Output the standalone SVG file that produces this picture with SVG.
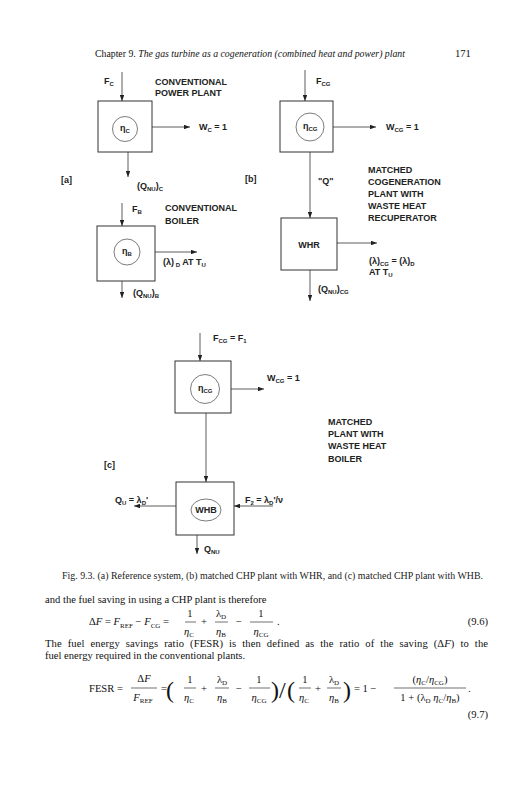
<svg xmlns="http://www.w3.org/2000/svg" width="532" height="800" viewBox="0 0 532 800">
<defs>
<marker id="ah" viewBox="0 0 8 6" refX="8" refY="3" markerWidth="6" markerHeight="4.5" orient="auto" markerUnits="userSpaceOnUse">
<path d="M0,0 L8,3 L0,6 Z" fill="#222"/>
</marker>
<style>
.l{font-family:"Liberation Sans",Arial,sans-serif;font-weight:bold;font-size:9px;fill:#222}
.s{font-size:6px}
.t{font-family:"Liberation Serif","Times New Roman",serif;font-size:10.6px;fill:#111}
.c{font-family:"Liberation Serif","Times New Roman",serif;font-size:9.5px;fill:#222}
.i{font-style:italic}
.box{fill:none;stroke:#333;stroke-width:1}
.ci{fill:none;stroke:#444;stroke-width:0.7}
.a{stroke:#333;stroke-width:0.8;fill:none;marker-end:url(#ah)}
.fb{stroke:#111;stroke-width:0.6}
.p{font-size:24px}
</style>
</defs>
<rect width="532" height="800" fill="#fff"/>

<g id="header">
<text class="t" x="95" y="57" font-size="9" textLength="310" lengthAdjust="spacingAndGlyphs">Chapter 9. <tspan class="i">The gas turbine as a cogeneration (combined heat and power) plant</tspan></text>
<text class="t" x="455" y="57" font-size="9.5">171</text>
</g>

<g id="connectors">
<line class="a" x1="122" y1="72" x2="122" y2="101"/>
<line class="a" x1="152" y1="127" x2="190" y2="127"/>
<line class="a" x1="128" y1="152" x2="128" y2="177"/>
<line class="a" x1="122" y1="203" x2="122" y2="226"/>
<line class="a" x1="155" y1="252" x2="197" y2="252"/>
<line class="a" x1="122" y1="281" x2="122" y2="298"/>
<line class="a" x1="305" y1="70" x2="305" y2="101"/>
<line class="a" x1="333" y1="127" x2="376" y2="127"/>
<line class="a" x1="310" y1="152" x2="310" y2="218"/>
<line class="a" x1="337" y1="243" x2="377" y2="243"/>
<line class="a" x1="310" y1="270" x2="310" y2="301"/>
<line class="a" x1="200" y1="333" x2="200" y2="361"/>
<line class="a" x1="231" y1="389" x2="264" y2="389"/>
<line class="a" x1="206" y1="413" x2="206" y2="482"/>
<line class="a" x1="176" y1="506" x2="134" y2="506"/>
<line class="a" x1="273" y1="506" x2="234" y2="506"/>
<line class="a" x1="197" y1="535" x2="197" y2="554"/>
</g>

<g id="a-power">
<rect class="box" x="98" y="101" width="54" height="51"/>
<circle class="ci" cx="125" cy="129" r="12.5"/>
<text class="l" x="120" y="131" font-weight="normal">η<tspan class="s" dy="2">C</tspan></text>
</g>
<g id="a-power-labels">
<text class="l" x="104" y="84">F<tspan class="s" dy="2">C</tspan></text>
<text class="l" x="155" y="85">CONVENTIONAL</text>
<text class="l" x="155" y="96">POWER PLANT</text>
<text class="l" x="199" y="130">W<tspan class="s" dy="2">C</tspan><tspan dy="-2"> = 1</tspan></text>
<text class="l" x="137" y="189">(Q<tspan class="s" dy="2">NU</tspan><tspan dy="-2">)</tspan><tspan class="s" dy="2">C</tspan></text>
<text class="l" x="61" y="183" font-size="11">[a]</text>
</g>

<g id="a-boiler">
<rect class="box" x="97" y="226" width="58" height="55"/>
<circle class="ci" cx="127" cy="252" r="13"/>
<text class="l" x="122" y="254" font-weight="normal">η<tspan class="s" dy="2">B</tspan></text>
</g>
<g id="a-boiler-labels">
<text class="l" x="132" y="212">F<tspan class="s" dy="2">B</tspan></text>
<text class="l" x="165" y="211">CONVENTIONAL</text>
<text class="l" x="165" y="224">BOILER</text>
<text class="l" x="163" y="265">(λ)<tspan class="s" dy="2"> D</tspan><tspan dy="-2"> AT T</tspan><tspan class="s" dy="2">U</tspan></text>
<text class="l" x="133" y="296">(Q<tspan class="s" dy="2">NU</tspan><tspan dy="-2">)</tspan><tspan class="s" dy="2">B</tspan></text>
</g>

<g id="b-plant">
<rect class="box" x="280" y="101" width="53" height="51"/>
<circle class="ci" cx="310" cy="127" r="14"/>
<text class="l" x="303" y="129" font-weight="normal">η<tspan class="s" dy="2">CG</tspan></text>
</g>
<g id="b-labels">
<text class="l" x="316" y="84">F<tspan class="s" dy="2">CG</tspan></text>
<text class="l" x="386" y="130">W<tspan class="s" dy="2">CG</tspan><tspan dy="-2"> = 1</tspan></text>
<text class="l" x="245" y="182" font-size="11">[b]</text>
<text class="l" x="318" y="184">"Q"</text>
<text class="l" x="368" y="173">MATCHED</text>
<text class="l" x="368" y="185">COGENERATION</text>
<text class="l" x="368" y="197">PLANT WITH</text>
<text class="l" x="368" y="209">WASTE HEAT</text>
<text class="l" x="368" y="221">RECUPERATOR</text>
</g>
<g id="b-whr">
<rect class="box" x="281" y="218" width="56" height="52"/>
<text class="l" x="309" y="248" text-anchor="middle">WHR</text>
</g>
<g id="b-whr-labels">
<text class="l" x="369" y="264">(λ)<tspan class="s" dy="2">CG</tspan><tspan dy="-2"> = (λ)</tspan><tspan class="s" dy="2">D</tspan></text>
<text class="l" x="369" y="275">AT T<tspan class="s" dy="2">U</tspan></text>
<text class="l" x="318" y="292">(Q<tspan class="s" dy="2">NU</tspan><tspan dy="-2">)</tspan><tspan class="s" dy="2">CG</tspan></text>
</g>

<g id="c-plant">
<rect class="box" x="175" y="361" width="56" height="52"/>
<circle class="ci" cx="205" cy="389" r="14.5"/>
<text class="l" x="198" y="391" font-weight="normal">η<tspan class="s" dy="2">CG</tspan></text>
</g>
<g id="c-labels">
<text class="l" x="213" y="341">F<tspan class="s" dy="2">CG</tspan><tspan dy="-2"> = F</tspan><tspan class="s" dy="2">1</tspan></text>
<text class="l" x="267" y="381">W<tspan class="s" dy="2">CG</tspan><tspan dy="-2"> = 1</tspan></text>
<text class="l" x="104" y="468" font-size="11">[c]</text>
<text class="l" x="328" y="425">MATCHED</text>
<text class="l" x="328" y="437">PLANT WITH</text>
<text class="l" x="328" y="449">WASTE HEAT</text>
<text class="l" x="328" y="462">BOILER</text>
</g>
<g id="c-whb">
<rect class="box" x="176" y="482" width="58" height="53"/>
<ellipse class="ci" cx="206" cy="510" rx="15" ry="11"/>
<text class="l" x="206" y="513" text-anchor="middle">WHB</text>
</g>
<g id="c-whb-labels">
<text class="l" x="115" y="503">Q<tspan class="s" dy="2">U</tspan><tspan dy="-2"> = λ</tspan><tspan class="s" dy="2">D</tspan><tspan dy="-2">'</tspan></text>
<text class="l" x="245" y="503">F<tspan class="s" dy="2">2</tspan><tspan dy="-2"> = λ</tspan><tspan class="s" dy="2">D</tspan><tspan dy="-2">'/ν</tspan></text>
<text class="l" x="204" y="552">Q<tspan class="s" dy="2">NU</tspan></text>
</g>

<g id="caption">
<text class="c" x="62" y="579" textLength="421" lengthAdjust="spacingAndGlyphs">Fig. 9.3. (a) Reference system, (b) matched CHP plant with WHR, and (c) matched CHP plant with WHB.</text>
</g>

<g id="body">
<text class="t" x="45" y="603">and the fuel saving in using a CHP plant is therefore</text>
<text class="t" x="89" y="625">Δ<tspan class="i">F</tspan> = <tspan class="i">F</tspan><tspan font-size="7" dy="2.5">REF</tspan><tspan dy="-2.5"> − </tspan><tspan class="i">F</tspan><tspan font-size="7" dy="2.5">CG</tspan><tspan dy="-2.5"> =</tspan></text>
<text class="t" x="190" y="617" text-anchor="middle">1</text>
<line class="fb" x1="185" y1="622" x2="196" y2="622"/>
<text class="t" x="189" y="635" text-anchor="middle"><tspan class="i">η</tspan><tspan font-size="7" dy="2">C</tspan></text>
<text class="t" x="204" y="625" text-anchor="middle">+</text>
<text class="t" x="221" y="617" text-anchor="middle">λ<tspan font-size="7" dy="2">D</tspan></text>
<line class="fb" x1="215" y1="622" x2="228" y2="622"/>
<text class="t" x="221" y="635" text-anchor="middle"><tspan class="i">η</tspan><tspan font-size="7" dy="2">B</tspan></text>
<text class="t" x="239" y="625" text-anchor="middle">−</text>
<text class="t" x="261" y="617" text-anchor="middle">1</text>
<line class="fb" x1="250" y1="622" x2="273" y2="622"/>
<text class="t" x="261" y="635" text-anchor="middle"><tspan class="i">η</tspan><tspan font-size="7" dy="2">CG</tspan></text>
<text class="t" x="277" y="625">.</text>
<text class="t" x="488" y="625" text-anchor="end">(9.6)</text>

<text class="t" x="45" y="647" word-spacing="3.2" textLength="443" lengthAdjust="spacing">The fuel energy savings ratio (FESR) is then defined as the ratio of the saving (Δ<tspan class="i">F</tspan>) to the</text>
<text class="t" x="45" y="659">fuel energy required in the conventional plants.</text>

<text class="t" x="89" y="692">FESR =</text>
<text class="t" x="144" y="682" text-anchor="middle">Δ<tspan class="i">F</tspan></text>
<line class="fb" x1="131" y1="688" x2="157" y2="688"/>
<text class="t" x="143" y="701" text-anchor="middle"><tspan class="i">F</tspan><tspan font-size="7" dy="2">REF</tspan></text>
<text class="t" x="161" y="692">=</text>
<text class="t p" x="166" y="698">(</text>
<text class="t" x="190" y="683" text-anchor="middle">1</text>
<line class="fb" x1="184" y1="688" x2="196" y2="688"/>
<text class="t" x="189" y="701" text-anchor="middle"><tspan class="i">η</tspan><tspan font-size="7" dy="2">C</tspan></text>
<text class="t" x="204" y="692" text-anchor="middle">+</text>
<text class="t" x="222" y="683" text-anchor="middle">λ<tspan font-size="7" dy="2">D</tspan></text>
<line class="fb" x1="215" y1="688" x2="229" y2="688"/>
<text class="t" x="222" y="701" text-anchor="middle"><tspan class="i">η</tspan><tspan font-size="7" dy="2">B</tspan></text>
<text class="t" x="239" y="692" text-anchor="middle">−</text>
<text class="t" x="259" y="683" text-anchor="middle">1</text>
<line class="fb" x1="249" y1="688" x2="270" y2="688"/>
<text class="t" x="259" y="701" text-anchor="middle"><tspan class="i">η</tspan><tspan font-size="7" dy="2">CG</tspan></text>
<text class="t p" x="271" y="698">)</text>
<text class="t p" x="279" y="698">/</text>
<text class="t p" x="287" y="698">(</text>
<text class="t" x="305" y="683" text-anchor="middle">1</text>
<line class="fb" x1="299" y1="688" x2="311" y2="688"/>
<text class="t" x="304" y="701" text-anchor="middle"><tspan class="i">η</tspan><tspan font-size="7" dy="2">C</tspan></text>
<text class="t" x="318" y="692" text-anchor="middle">+</text>
<text class="t" x="334" y="683" text-anchor="middle">λ<tspan font-size="7" dy="2">D</tspan></text>
<line class="fb" x1="327" y1="688" x2="341" y2="688"/>
<text class="t" x="334" y="701" text-anchor="middle"><tspan class="i">η</tspan><tspan font-size="7" dy="2">B</tspan></text>
<text class="t p" x="343" y="698">)</text>
<text class="t" x="354" y="692">= 1 −</text>
<text class="t" x="430" y="683" text-anchor="middle">(<tspan class="i">η</tspan><tspan font-size="7" dy="2">C</tspan><tspan dy="-2">/</tspan><tspan class="i">η</tspan><tspan font-size="7" dy="2">CG</tspan><tspan dy="-2">)</tspan></text>
<line class="fb" x1="394" y1="688" x2="466" y2="688"/>
<text class="t" x="430" y="701" text-anchor="middle">1 + (λ<tspan font-size="7" dy="2">D</tspan><tspan class="i" dy="-2"> η</tspan><tspan font-size="7" dy="2">C</tspan><tspan dy="-2">/</tspan><tspan class="i">η</tspan><tspan font-size="7" dy="2">B</tspan><tspan dy="-2">)</tspan></text>
<text class="t" x="468" y="692">.</text>
<text class="t" x="488" y="718" text-anchor="end">(9.7)</text>
</g>
</svg>
